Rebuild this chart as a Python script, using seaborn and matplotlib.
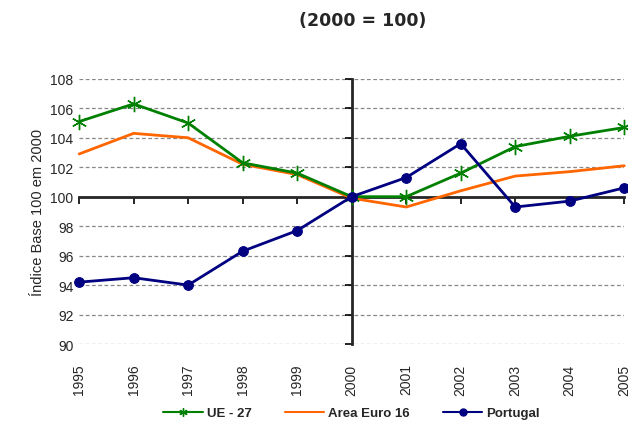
import matplotlib
matplotlib.use('agg')
import matplotlib.pyplot as plt
import seaborn as sns
import pandas as pd
from matplotlib.lines import Line2D

years = [1995, 1996, 1997, 1998, 1999, 2000, 2001, 2002, 2003, 2004, 2005]
ue27 = [105.1, 106.3, 105.0, 102.3, 101.6, 100.0, 100.0, 101.6, 103.4, 104.1, 104.7]
euro16 = [102.9, 104.3, 104.0, 102.2, 101.5, 99.9, 99.3, 100.4, 101.4, 101.7, 102.1]
portugal = [94.2, 94.5, 94.0, 96.3, 97.7, 100.0, 101.3, 103.6, 99.3, 99.7, 100.6]
y_ticks = [90, 92, 94, 96, 98, 100, 102, 104, 106, 108]

sns.set_style('white')
plt.rcParams['font.family'] = ['Liberation Sans', 'DejaVu Sans']

df = pd.DataFrame({'year': years, 'UE - 27': ue27, 'Area Euro 16': euro16, 'Portugal': portugal})

fig = plt.figure(figsize=(6.28, 4.27), dpi=100)
ax = fig.add_axes([0.126, 0.192, 0.868, 0.621])

# grid lines
for v in y_ticks:
    ax.axhline(v, color='#888888', linestyle=(0, (3, 2)), linewidth=0.9, zorder=0)

sns.lineplot(data=df, x='year', y='UE - 27', ax=ax, color='#008000', linewidth=2,
             marker=(6, 2, 0), markersize=11, markeredgecolor='#008000',
             markeredgewidth=1, clip_on=False, zorder=3)
sns.lineplot(data=df, x='year', y='Area Euro 16', ax=ax, color='#FF6600', linewidth=2,
             clip_on=False, zorder=2)
sns.lineplot(data=df, x='year', y='Portugal', ax=ax, color='#000080', linewidth=2,
             marker='o', markersize=7, markeredgecolor='#000080', clip_on=False, zorder=4)

ax.set_xlim(1995, 2005)
ax.set_ylim(90, 108)
ax.set_yticks(y_ticks)
ax.set_xticks(years)
ax.set_xticklabels([str(y) for y in years], rotation=90)
ax.tick_params(axis='both', length=0, labelsize=10, pad=4)
ax.tick_params(axis='x', pad=14)
ax.set_xlabel('')
ax.set_ylabel('Índice Base 100 em 2000', fontsize=10.5)
for s in ax.spines.values():
    s.set_visible(False)

# crossing axes at 2000 / 100
sx = ax.secondary_xaxis((100 - 90) / (108 - 90))
sx.set_alignment('bottom')
sx.set_xticks(years)
sx.set_xticklabels([])
sx.tick_params(axis='x', direction='out', length=5, width=1.2, color='black')
for s in sx.spines.values():
    s.set_linewidth(2)
sy = ax.secondary_yaxis((2000 - 1995) / (2005 - 1995))
sy.set_alignment('left')
sy.set_yticks(y_ticks)
sy.set_yticklabels([])
sy.tick_params(axis='y', direction='out', length=5, width=1.2, color='black')
for s in sy.spines.values():
    s.set_linewidth(2)

fig.text(0.577, 0.95, '(2000 = 100)', ha='center', va='center', fontsize=12.5,
         fontweight='bold', family='DejaVu Sans')

handles = [
    Line2D([], [], color='#008000', linewidth=1.5, marker=(6, 2, 0), markersize=6),
    Line2D([], [], color='#FF6600', linewidth=1.5),
    Line2D([], [], color='#000080', linewidth=1.5, marker='o', markersize=5),
]
fig.legend(handles, ['UE - 27', 'Area Euro 16', 'Portugal'], loc='center',
           bbox_to_anchor=(0.56, 0.03), ncol=3, frameon=False, handlelength=3,
           columnspacing=2.5, handletextpad=0.3, prop={'weight': 'bold', 'size': 9.5})

fig.savefig('out.png', dpi=100)
